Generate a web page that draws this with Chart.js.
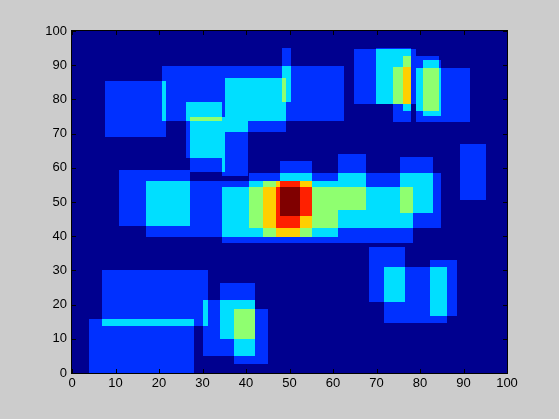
<!DOCTYPE html>
<html>
<head>
<meta charset="utf-8">
<title>Overlap count map</title>
<script src="https://cdn.jsdelivr.net/npm/chart.js@4.4.1/dist/chart.umd.min.js"></script>
<style>
  html, body { margin: 0; padding: 0; background: #cccccc; }
  #wrap { width: 559px; height: 419px; }
</style>
</head>
<body>
<div id="wrap"><canvas id="countMap" width="559" height="419"></canvas></div>
<script>
  "use strict";

  // rectangles (axis units); each one adds 1 to the count
  const rectX0 = [7.7, 20.6, 48.3, 35.1, 26.3, 27.2, 34.5, 10.8, 16.9, 34.4, 44.0, 46.9, 40.7, 47.8, 61.2, 75.3, 89.1,
                  7.0, 3.8, 30.1, 34.0, 37.2, 68.3, 71.8, 82.4, 64.9, 69.9, 76.2, 73.8, 79.1, 80.8, 79.1];
  const rectX1 = [21.7, 62.6, 50.3, 49.2, 34.5, 35.1, 40.5, 27.1, 61.2, 78.5, 55.1, 52.3, 84.8, 55.1, 67.6, 83.1, 95.2,
                  31.2, 28.0, 42.0, 42.0, 45.1, 76.6, 86.1, 88.4, 79.1, 77.9, 77.9, 77.9, 91.4, 84.8, 84.3];
  const rectY0 = [68.9, 73.6, 79.1, 70.4, 63.0, 58.9, 57.5, 43.0, 39.7, 38.0, 39.7, 39.7, 42.5, 45.8, 47.7, 46.9, 50.7,
                  13.6, 0.0, 5.0, 9.9, 2.5, 20.9, 14.7, 16.7, 78.8, 78.8, 76.5, 73.3, 73.3, 75.1, 76.5];
  const rectY1 = [85.3, 89.9, 95.1, 86.3, 79.2, 74.9, 73.6, 59.4, 56.0, 54.4, 56.0, 56.0, 58.5, 61.9, 64.1, 63.2, 67.1,
                  30.0, 15.8, 21.2, 26.2, 18.8, 36.8, 31.1, 33.1, 94.6, 95.1, 92.6, 89.5, 89.2, 91.4, 92.6];

  const tickValues = [0, 10, 20, 30, 40, 50, 60, 70, 80, 90, 100];

  // jet colours for counts 0..6
  const jetColors = [
    "rgb(0,0,143)", "rgb(0,48,255)", "rgb(0,223,255)", "rgb(143,255,112)",
    "rgb(255,207,0)", "rgb(255,32,0)", "rgb(128,0,0)"
  ];

  function uniqueSorted(list) {
    return Array.from(new Set(list)).sort(function (a, b) { return a - b; });
  }

  function countAt(cx, cy) {
    let n = 0;
    for (let k = 0; k < rectX0.length; k++) {
      if (cx >= rectX0[k] && cx < rectX1[k] && cy >= rectY0[k] && cy < rectY1[k]) n++;
    }
    return n;
  }

  const countMapPlugin = {
    id: "countMap",
    beforeDatasetsDraw(chart) {
      const ctx = chart.ctx;
      const xs = chart.scales.x;
      const ys = chart.scales.y;
      const xEdges = uniqueSorted([0, 100].concat(rectX0, rectX1));
      const yEdges = uniqueSorted([0, 100].concat(rectY0, rectY1));
      ctx.save();
      for (let i = 0; i < xEdges.length - 1; i++) {
        const left = Math.round(xs.getPixelForValue(xEdges[i]));
        const right = Math.round(xs.getPixelForValue(xEdges[i + 1]));
        const cx = (xEdges[i] + xEdges[i + 1]) / 2;
        for (let j = 0; j < yEdges.length - 1; j++) {
          const bottom = Math.round(ys.getPixelForValue(yEdges[j]));
          const top = Math.round(ys.getPixelForValue(yEdges[j + 1]));
          const cy = (yEdges[j] + yEdges[j + 1]) / 2;
          const n = Math.min(countAt(cx, cy), jetColors.length - 1);
          ctx.fillStyle = jetColors[n];
          ctx.fillRect(left, top, right - left, bottom - top);
        }
      }
      ctx.restore();
    },
    afterDraw(chart) {
      const ctx = chart.ctx;
      const a = chart.chartArea;
      const xs = chart.scales.x;
      const ys = chart.scales.y;
      ctx.save();
      ctx.strokeStyle = "#000000";
      ctx.lineWidth = 1;
      ctx.beginPath();
      tickValues.forEach(function (v) {
        const px = Math.round(xs.getPixelForValue(v)) + 0.5;
        ctx.moveTo(px, a.bottom);
        ctx.lineTo(px, a.bottom - 4);
        ctx.moveTo(px, a.top);
        ctx.lineTo(px, a.top + 4);
        const py = Math.round(ys.getPixelForValue(v)) + 0.5;
        ctx.moveTo(a.left, py);
        ctx.lineTo(a.left + 4, py);
        ctx.moveTo(a.right, py);
        ctx.lineTo(a.right - 4, py);
      });
      ctx.stroke();
      ctx.strokeRect(a.left - 0.5, a.top - 0.5, a.right - a.left + 1, a.bottom - a.top + 1);
      ctx.restore();
    }
  };

  const tickFont = { family: "'Liberation Sans', Arial, sans-serif", size: 13 };

  new Chart(document.getElementById("countMap"), {
    type: "scatter",
    data: { datasets: [{ data: [], pointRadius: 0 }] },
    options: {
      responsive: false,
      animation: false,
      devicePixelRatio: 1,
      layout: { padding: { left: 0, right: 52, top: 31, bottom: 0 } },
      plugins: { legend: { display: false }, tooltip: { enabled: false } },
      scales: {
        x: {
          type: "linear",
          min: 0,
          max: 100,
          afterFit: function (s) { s.height = 46; },
          afterBuildTicks: function (s) { s.ticks = tickValues.map(function (v) { return { value: v }; }); },
          grid: { display: false, drawTicks: false },
          border: { display: false },
          ticks: { color: "#000000", font: tickFont, padding: 3, maxRotation: 0, autoSkip: false }
        },
        y: {
          type: "linear",
          min: 0,
          max: 100,
          afterFit: function (s) { s.width = 72; },
          afterBuildTicks: function (s) { s.ticks = tickValues.map(function (v) { return { value: v }; }); },
          grid: { display: false, drawTicks: false },
          border: { display: false },
          ticks: { color: "#000000", font: tickFont, padding: 5, autoSkip: false }
        }
      }
    },
    plugins: [countMapPlugin]
  });
</script>
</body>
</html>
